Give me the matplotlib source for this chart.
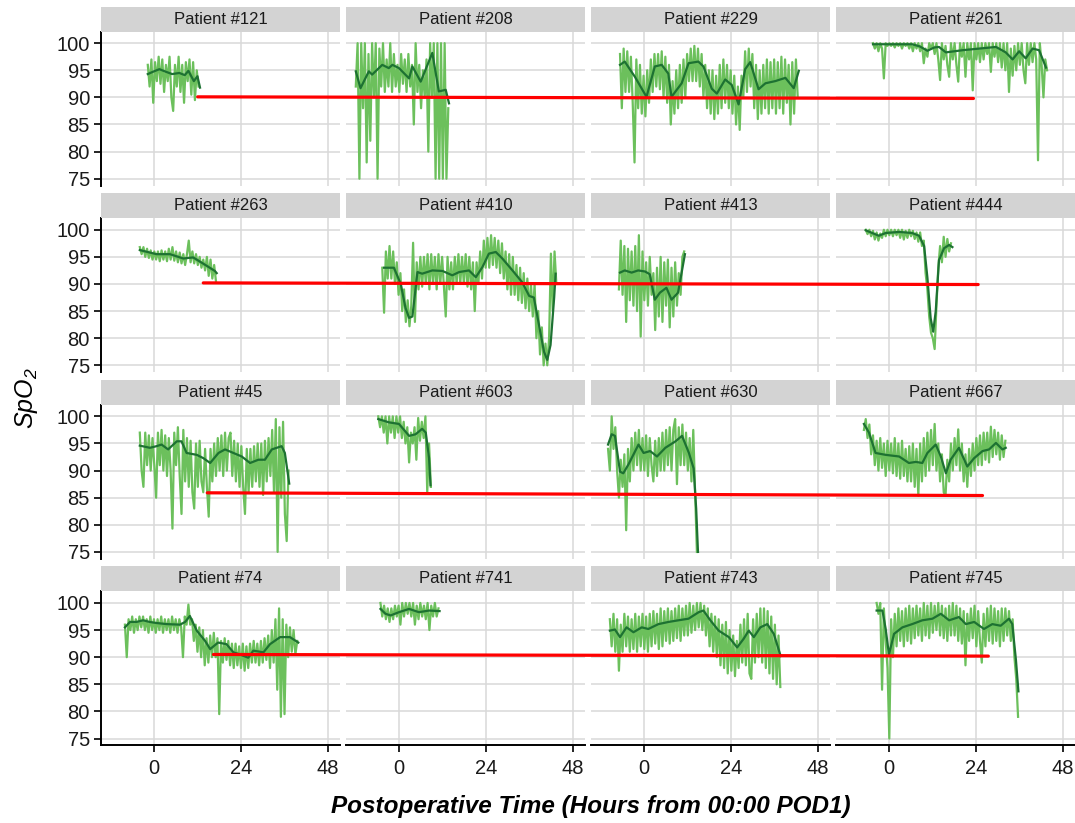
import numpy as np
import matplotlib
matplotlib.use("Agg")
import matplotlib.pyplot as plt
from matplotlib.patches import ConnectionPatch

plt.rcParams['font.family'] = ['Liberation Sans', 'DejaVu Sans']
plt.rcParams['mathtext.fontset'] = 'custom'
plt.rcParams['mathtext.it'] = 'Liberation Sans:italic'
plt.rcParams['mathtext.rm'] = 'Liberation Sans:italic'

STEP = 0.5  # hours between raw SpO2 samples

# ---- raw readings (start hour + values every STEP hours) and smoothed fit knots ----
p121_t0 = -1.7
p121_raw = [96, 92, 97, 89, 96.5, 93, 97.5, 92.5, 97, 91, 96, 93, 97.5, 90, 87.5, 96, 92, 97.5, 91, 96,
            89, 96.5, 93, 97, 90.5, 96.5, 89.5, 95, 92]
p121_fit_t = [-1.7, 0, 1.5, 3, 5, 7, 8.5, 9.5, 11, 12, 12.7]
p121_fit_v = [94.3, 94.8, 95.2, 94.8, 94.3, 94.5, 94.1, 94.9, 93, 93.9, 91.8]

p208_t0 = -11.9
p208_raw = [92, 100, 75, 100, 88, 100, 78, 98, 82, 100, 90, 100, 75, 99, 92, 100, 91, 97, 92, 100,
            91, 98, 92, 96, 91, 98, 92.5, 97, 91, 98, 92, 96, 85, 100, 91, 96, 88, 95, 90, 97,
            80, 100, 90, 100, 75, 100, 75, 100, 75, 100, 75, 88]
p208_fit_t = [-11.9, -10.6, -8.3, -7.4, -4.6, -2.8, -1.8, 0, 2.8, 3.7, 6.0, 9.2, 11.0, 12.9, 13.8]
p208_fit_v = [94.8, 91.7, 94.8, 94.2, 96, 95.4, 96, 95.4, 93.5, 95.7, 92.9, 98.2, 91.1, 91.4, 88.9]

p229_t0 = -6.6
p229_raw = [98, 88, 99, 91, 98.5, 91, 97.5, 89, 78, 97, 88, 96, 87, 94, 86.5, 95, 89, 97, 91, 98,
            92, 98, 91.5, 98.5, 90, 97.5, 89, 96, 85, 93, 87, 95, 88, 96, 89, 97, 90, 98, 93, 99,
            93, 99.5, 93, 99, 92, 98, 90, 96, 88, 95, 87, 95, 86, 94, 87, 96, 88, 97, 89, 96,
            88, 95, 87, 94, 85, 92, 84, 94, 90, 98.5, 91, 99, 92, 98, 88, 96, 86, 95, 87, 96,
            88, 97, 87, 96.5, 88, 97, 87, 96.5, 88, 97.5, 87, 97, 89, 96, 85, 96.5, 87, 97, 90]
p229_fit_t = [-6.6, -5.3, -2.5, 0.7, 3.0, 4.9, 6.7, 7.6, 10.4, 12.3, 15.0, 16.4, 18.7, 20.1, 22.4,
              24.2, 26.1, 27.9, 29.3, 31.6, 33.5, 36.2, 39.0, 41.3, 42.7]
p229_fit_v = [96, 96.6, 93.8, 90.1, 95.7, 96, 94.4, 90.1, 92.6, 96.3, 96.6, 95.7, 91.6, 90.7, 93.3,
              92.3, 88.7, 95.2, 96.5, 91.5, 92.6, 93, 93.6, 91.7, 94.9]

p261_t0 = -4.4
p261_raw = [100, 99, 100, 98.5, 100, 99, 93.5, 100, 99.5, 100, 99.5, 100, 99.2, 100, 99.5, 100, 99, 100,
            99.5, 100, 99, 100, 98.5, 100, 99, 100, 98.5, 100, 96.3, 99, 97.5, 100, 99, 100, 98, 100,
            97, 93.2, 100, 97, 99.5, 96, 93.8, 100, 97, 100, 96, 92.9, 100, 97.5, 100, 93.8, 100, 97,
            100, 91.3, 100, 97, 100, 96.5, 100, 97, 100, 98, 100, 94.7, 100, 97.5, 100, 96.5, 100,
            95.5, 100, 95, 100, 91, 99, 94, 99.5, 95, 100, 96, 100, 95, 92.6, 100, 96, 100, 96.5,
            100, 97, 78.4, 100, 96, 90, 97, 95]
p261_fit_t = [-4.4, 6.4, 8.5, 10.6, 12.5, 13.8, 15.7, 18, 20.3, 24.9, 29.5, 32.2, 34.1, 35.9, 37.7,
              39.6, 41.4, 43.3]
p261_fit_v = [99.8, 99.8, 99.4, 98.6, 99.2, 99.3, 98.3, 98.5, 98.7, 99, 99.3, 98.3, 97, 98.5, 97.2,
              99, 98.7, 95.5]

p263_t0 = -3.9
p263_raw = [96.8, 95.5, 96.8, 95, 96.5, 94.8, 96.2, 94.5, 96, 94.5, 96, 94.2, 96.2, 94.5, 96, 94.2,
            96.5, 94.5, 96.8, 94.3, 96, 94, 95.8, 93.8, 95.5, 93.5, 95.5, 98, 94, 96, 93.8, 95.5,
            93.5, 95, 93, 94.5, 92.5, 95, 91.5, 94.5, 91, 93.5, 90.5]
p263_fit_t = [-3.9, 0.7, 4.4, 8.1, 10.8, 13.6, 16.8, 17.3]
p263_fit_v = [96.25, 95.5, 95.5, 94.7, 94.9, 93.75, 92.4, 92]

p410_t0 = -4.6
p410_raw = [93, 84.7, 96, 91, 97, 91, 96, 90, 94, 88, 92, 85, 89, 83, 87, 82.2, 86, 97.6, 83, 94,
            89, 95, 89.5, 95, 90, 95.5, 89, 95.5, 90, 95, 89, 95.5, 90, 95, 89.5, 84, 95, 89, 94, 89,
            95, 90, 95.5, 90, 95, 90, 95.5, 89.5, 95, 89, 94, 85, 94, 90, 96, 91, 98, 93, 98.5, 93,
            99, 93.5, 98.5, 93, 98, 92, 97.5, 91, 96, 89, 95.5, 88, 95, 88, 93.5, 87, 93, 86.5, 92,
            85.5, 91, 85, 90, 84, 90, 80, 85, 77, 82, 75, 79, 75, 80, 95.6, 85, 96, 90]
p410_fit_t = [-4.1, -1.4, 0.5, 1.8, 2.8, 3.7, 5.1, 6.4, 9.2, 12.0, 14.7, 16.6, 19.3, 21.2, 23.0,
              24.8, 26.7, 28.5, 31.3, 34.0, 35.9, 37.2, 38.6, 40.0, 40.9, 41.8, 42.8, 43.2]
p410_fit_v = [93, 93, 90, 85.6, 83.75, 84, 92.2, 91.9, 92.5, 92.4, 91.6, 92.2, 92.5, 91.25, 93.1,
              95.6, 95.9, 94.7, 92.5, 90.3, 87.8, 87.5, 82.5, 77.5, 76, 78.75, 87.5, 91.9]

p413_t0 = -6.9
p413_raw = [89, 98, 88, 97, 83, 96.5, 87, 96, 86, 97, 85, 99, 80.3, 96, 87, 94, 86, 95, 88, 92,
            81.5, 93, 84, 95, 83, 94, 86, 94.5, 82, 93, 84, 94, 86, 92, 88, 95, 96]
p413_fit_t = [-6.6, -5.3, -3.4, -1.6, 0.3, 1.6, 3.0, 4.4, 6.2, 7.6, 9.4, 11.3]
p413_fit_v = [92.1, 92.5, 92.1, 92.5, 92.3, 91.8, 87.1, 88.4, 89.3, 87.1, 88.4, 95.5]

p444_t0 = -6.4
p444_raw = [100, 99.2, 100, 98.8, 99.8, 98.2, 99.5, 98, 99.3, 98.5, 100, 98.8, 100, 99, 100, 98.8,
            100, 99, 100, 98.5, 100, 98.2, 99.8, 98.5, 100, 98.8, 99.8, 98.3, 99.5, 97.8, 99.5, 97,
            98, 92, 89, 84, 81, 80, 78, 86, 93, 97, 94, 98.7, 95, 98.3, 96, 97.5]
p444_fit_t = [-6.4, -4.6, -2.8, -0.9, 2.8, 6.4, 8.3, 9.7, 10.6, 11.5, 12.2, 12.9, 13.8, 15.2, 16.6, 17.5]
p444_fit_v = [99.9, 99.4, 98.9, 99.4, 99.6, 99.4, 98.9, 97, 91.2, 83.7, 81.2, 85, 94.4, 96.6, 97.2, 96.8]

p45_t0 = -3.9
p45_raw = [97, 90, 87, 97, 91, 96.5, 90, 96, 91, 85, 97, 91, 97.5, 90, 96.5, 89, 96, 90, 79.3, 97,
           91, 98, 89, 82, 97.5, 88, 96, 87, 95.5, 86, 83, 95, 87, 95.5, 88, 86, 94, 87, 81.5, 94,
           88, 95, 89, 96, 90, 96.5, 89, 97, 90, 96, 97, 89, 95.5, 88, 95, 87, 94.5, 87, 82, 94,
           86, 94, 87, 94.5, 88, 95, 87, 95, 85.5, 95.5, 88, 96, 89, 97.5, 86, 99.5, 75, 98, 85, 99,
           82, 77, 90]
p45_fit_t = [-3.9, -1.1, 0.7, 2.1, 3.9, 6.3, 7.6, 9.0, 11.8, 13.6, 15.5, 17.8, 19.6, 21.9, 24.2,
             26.5, 28.8, 30.6, 32.5, 35.2, 36.1, 37.3]
p45_fit_v = [94.6, 94.2, 94.5, 94.8, 93.9, 95.4, 95.4, 93.25, 92.9, 92.3, 91.4, 93.25, 93.9, 93.25,
             92.6, 91.4, 92, 92, 93.9, 94.5, 93.25, 87.6]

p603_t0 = -5.7
p603_raw = [100, 98, 100, 97, 100, 95, 100, 97, 100, 96, 100, 97, 100, 96, 99, 95, 98, 91.5, 97, 95,
            98, 92, 99.7, 95.5, 99, 96, 100, 86, 95, 87]
p603_fit_t = [-5.7, -2.8, 0, 2.8, 4.6, 6.4, 7.4, 8.3, 8.7]
p603_fit_v = [99.5, 98.9, 98.6, 96.4, 96.7, 97.7, 97, 92.3, 87.3]

p630_t0 = -9.9
p630_raw = [94, 90, 100, 94, 98, 90, 85, 92, 87, 93, 79, 94, 88, 96, 90, 97, 91, 97.5, 90, 96,
            90, 96.5, 89, 96, 91, 88, 95.5, 89, 96, 90, 97, 90, 97.5, 91, 98, 90, 97.5, 99.5, 87.5, 98,
            91, 98.5, 91, 97, 90, 96, 88, 97.5, 86, 75]
p630_fit_t = [-9.9, -8.9, -8.0, -6.6, -5.7, -4.3, -1.5, -0.1, 1.7, 3.6, 5.9, 8.7, 10.5, 12.4, 13.7,
              14.4, 14.9]
p630_fit_v = [94.8, 96.7, 96.4, 89.8, 89.5, 91.1, 94.8, 93.25, 93.6, 92.6, 94.2, 95.4, 96.4, 93.25,
              90.4, 83, 75]

p667_t0 = -6.9
p667_raw = [97.5, 99.5, 96, 98.5, 93, 96.5, 91, 95.5, 90, 96, 90.5, 95, 89, 95.5, 90, 95, 89.5, 96,
            89, 95, 88.5, 95.5, 89, 94, 88, 94.5, 88, 95, 87, 94, 85.4, 95, 88, 96, 89, 97, 90, 97.5,
            91, 98.6, 90, 95, 88, 93, 86, 85.4, 92, 88, 95, 90, 96, 91, 97.6, 90, 95, 88, 93, 87,
            94, 89, 95, 90, 96, 91, 96.5, 91, 97, 92, 97, 91.5, 98.1, 92.5, 97.5, 93, 97, 92, 96.5,
            92.5, 95.5]
p667_fit_t = [-6.9, -5.5, -3.7, -0.9, 2.8, 5.5, 7.4, 9.2, 10.6, 12.9, 14.3, 15.7, 17.0, 19.3, 21.6,
              23.5, 25.8, 27.6, 29.5, 31.3, 32.2]
p667_fit_v = [98.6, 97, 93.25, 92.9, 92.6, 91.4, 91.6, 91.4, 93.25, 94.8, 92.6, 89.5, 92, 94.2,
              90.75, 92.3, 93.6, 93.9, 95.1, 93.9, 94.2]

p74_t0 = -8.0
p74_raw = [96, 90, 97, 95, 97.5, 94.5, 97, 95, 97.5, 95.5, 97.5, 95, 97, 94.5, 97.5, 95, 97, 94.5,
           97, 95, 97.5, 94.5, 97, 95, 97, 94.5, 97.5, 95, 97, 94.5, 97, 95.5, 90, 97.5, 96, 99.7,
           96, 97, 93, 96, 91, 95.5, 90, 95, 88.5, 93.5, 89, 94, 90, 94.5, 90, 93.5, 79.5, 93, 89,
           93.5, 89.5, 93, 88.5, 92.5, 88, 92.5, 88.5, 92, 88, 92.5, 87.5, 92, 88, 92.5, 89, 93,
           89, 92.5, 88.5, 93, 89, 93.5, 89.5, 94, 88, 95, 89, 97, 84, 99, 79, 97, 79.5, 96, 90,
           95.5, 91, 95, 90.5, 93]
p74_fit_t = [-8.0, -6.6, -4.8, -3.0, -1.2, 0.7, 3.5, 7.2, 8.6, 9.9, 11.8, 14.1, 15.5, 17.7, 20.0,
             21.9, 23.7, 26.0, 27.4, 30.2, 32.0, 34.8, 37.5, 39.8]
p74_fit_v = [95.5, 96.5, 96.5, 96.8, 96.5, 96.3, 96.1, 96, 96.5, 97.6, 94.9, 93, 91.5, 92.7, 92.4,
             90.9, 90.5, 89.9, 91.2, 90.9, 92.4, 93.7, 93.7, 92.7]

p741_t0 = -5.1
p741_raw = [100, 97.5, 99.5, 97, 99, 96.5, 99, 97, 99.5, 97.5, 99.5, 96, 100, 97.5, 100, 98, 100,
            97.5, 100, 96, 99.5, 97, 100, 97.5, 99.5, 97, 100, 95, 99.5, 97.5, 100, 97.5, 99]
p741_fit_t = [-5.1, -3.7, -2.3, 0, 2.8, 5.5, 8.3, 11.2]
p741_fit_v = [98.9, 98, 97.7, 98.3, 98.9, 98.3, 98.6, 98.5]

p743_t0 = -9.4
p743_raw = [97, 92, 98, 91, 97, 87.5, 96, 91, 98, 92, 97.5, 91, 97, 91.5, 98, 91, 97.5, 92, 98, 91.5,
            97.5, 91, 98, 92, 98.5, 92.5, 98, 91.5, 99, 92, 98.5, 93, 99, 92.5, 98.5, 93, 99, 93.5,
            99.5, 93, 99, 94, 99.5, 94, 100, 94.5, 99.5, 95, 100, 95.5, 100, 95, 99.5, 94, 99, 92,
            98, 91, 97.5, 90, 97, 88.5, 96, 88, 96.5, 87, 95, 87.5, 94, 86.5, 93, 88, 96, 89, 97,
            88.5, 98, 87, 86, 97, 89, 98, 90, 99, 89, 99, 88, 98.5, 87, 97.5, 86, 96, 85, 94, 84.5]
p743_fit_t = [-9.4, -8.0, -6.6, -4.8, -2.9, -0.6, 1.2, 4.0, 6.8, 9.5, 12.3, 15.1, 16.4, 18.3, 20.6,
              23.4, 25.7, 27.5, 28.9, 30.3, 32.1, 34.0, 35.8, 37.7]
p743_fit_v = [94.9, 95.1, 93.7, 95.5, 94.6, 95.5, 95.2, 96.1, 96.5, 96.8, 97.1, 98.3, 98.6, 96.8,
              94.9, 93.7, 91.8, 93.4, 94.9, 93.7, 95.5, 96.1, 94.3, 90.2]

p745_t0 = -3.4
p745_raw = [100, 98, 100, 84, 99, 93, 88, 75, 97, 90, 98, 92, 99, 93, 98.5, 92, 99, 93, 99.5, 92.5,
            99, 93.5, 99.5, 94, 99, 93, 100, 94, 99.5, 93.5, 100, 94.5, 99.5, 95, 100, 94, 99.5, 93.5,
            99, 93, 99.5, 94, 100, 94, 99.5, 93, 99, 92.5, 98.5, 88.5, 98, 93, 99, 93.5, 99.5, 92,
            98.5, 93, 89, 98, 92, 99, 93, 99.5, 92.5, 99, 93, 98.5, 92, 99, 93, 99, 94, 98.5, 93,
            97, 90, 86, 79]
p745_fit_t = [-3.4, -1.8, -0.9, 0, 1.4, 3.7, 6.4, 9.2, 12.0, 14.3, 16.6, 19.3, 21.2, 23.5, 26.2,
              28.5, 30.8, 33.1, 34.0, 35.0, 35.7]
p745_fit_v = [98.6, 98.6, 95.2, 90.5, 94.3, 95.5, 96.1, 96.8, 97.1, 98, 96.8, 97.4, 96.1, 96.5,
              95.2, 96.1, 95.8, 97.1, 96.1, 89.6, 83.7]

# red 90% / 86% reference segments, one per facet row (from column 1 to column 4)
red_start_h = [12.05, 13.6, 14.7, 16.4]
red_start_v = [90.1, 90.2, 85.9, 90.5]
red_end_h = [23.3, 24.6, 25.8, 27.4]
red_end_v = [89.8, 89.9, 85.4, 90.2]

x_ticks = [0, 24, 48]
y_ticks = [75, 80, 85, 90, 95, 100]

panels = [
    ("121", p121_t0, p121_raw, p121_fit_t, p121_fit_v),
    ("208", p208_t0, p208_raw, p208_fit_t, p208_fit_v),
    ("229", p229_t0, p229_raw, p229_fit_t, p229_fit_v),
    ("261", p261_t0, p261_raw, p261_fit_t, p261_fit_v),
    ("263", p263_t0, p263_raw, p263_fit_t, p263_fit_v),
    ("410", p410_t0, p410_raw, p410_fit_t, p410_fit_v),
    ("413", p413_t0, p413_raw, p413_fit_t, p413_fit_v),
    ("444", p444_t0, p444_raw, p444_fit_t, p444_fit_v),
    ("45", p45_t0, p45_raw, p45_fit_t, p45_fit_v),
    ("603", p603_t0, p603_raw, p603_fit_t, p603_fit_v),
    ("630", p630_t0, p630_raw, p630_fit_t, p630_fit_v),
    ("667", p667_t0, p667_raw, p667_fit_t, p667_fit_v),
    ("74", p74_t0, p74_raw, p74_fit_t, p74_fit_v),
    ("741", p741_t0, p741_raw, p741_fit_t, p741_fit_v),
    ("743", p743_t0, p743_raw, p743_fit_t, p743_fit_v),
    ("745", p745_t0, p745_raw, p745_fit_t, p745_fit_v),
]

W, H = 1075, 823
fig = plt.figure(figsize=(W / 100, H / 100), dpi=100)

# layout in pixels (ggplot facet_wrap look)
left0, pw, col_pitch = 101, 239, 245
strip_top0, strip_h, ph, row_pitch = 6.5, 25, 154, 186.6

raw_col = "#6cc05c"
fit_col = "#1d7232"
grid_col = "#d9d9d9"

axes = np.empty((4, 4), dtype=object)
for i, (pid, t0, raw, fit_t, fit_v) in enumerate(panels):
    r, c = divmod(i, 4)
    x_px = left0 + c * col_pitch
    s_top = strip_top0 + r * row_pitch
    p_top = s_top + strip_h
    ax = fig.add_axes([x_px / W, 1 - (p_top + ph) / H, pw / W, ph / H])
    axes[r, c] = ax

    t = t0 + STEP * np.arange(len(raw))
    ax.plot(t, raw, color=raw_col, lw=1.6, zorder=2)
    ax.plot(fit_t, fit_v, color=fit_col, lw=1.6, zorder=3)

    ax.set_xlim(-14.6, 51.3)
    ax.set_ylim(73.75, 102.15)
    ax.set_xticks(x_ticks)
    ax.set_yticks(y_ticks)
    ax.grid(True, color=grid_col, lw=1.1, zorder=0)
    ax.set_axisbelow(True)
    for s in ax.spines.values():
        s.set_visible(False)
    ax.tick_params(length=0, labelsize=14.5, colors="#1a1a1a")
    if c == 0:
        ax.spines["left"].set_visible(True)
        ax.spines["left"].set_linewidth(1.4)
        ax.tick_params(axis="y", length=5, width=1.2, pad=3, color="black")
    else:
        ax.set_yticklabels([])
    if r == 3:
        ax.spines["bottom"].set_visible(True)
        ax.spines["bottom"].set_linewidth(1.4)
        ax.tick_params(axis="x", length=5, width=1.2, pad=5, color="black")
    else:
        ax.set_xticklabels([])

    sax = fig.add_axes([x_px / W, 1 - (s_top + strip_h) / H, pw / W, strip_h / H])
    sax.set_facecolor("#d3d3d3")
    sax.set_xticks([])
    sax.set_yticks([])
    for s in sax.spines.values():
        s.set_visible(False)
    sax.text(0.5, 0.5, f"Patient #{pid}", ha="center", va="center", fontsize=12,
             color="#1a1a1a", transform=sax.transAxes)

# red threshold segments drawn across each row of facets
for r in range(4):
    con = ConnectionPatch(xyA=(red_start_h[r], red_start_v[r]), coordsA="data", axesA=axes[r, 0],
                          xyB=(red_end_h[r], red_end_v[r]), coordsB="data", axesB=axes[r, 3],
                          color="#ff0000", lw=2.3, zorder=10)
    fig.add_artist(con)

fig.text(591 / W, 1 - 806 / H, "Postoperative Time (Hours from 00:00 POD1)", ha="center",
         va="center", fontsize=17.5, fontweight="bold", fontstyle="italic", color="black")
fig.text(26 / W, 1 - 398 / H, r"$SpO_2$", ha="center", va="center", rotation=90,
         fontsize=18, color="black")

fig.savefig("out.png", dpi=100)
